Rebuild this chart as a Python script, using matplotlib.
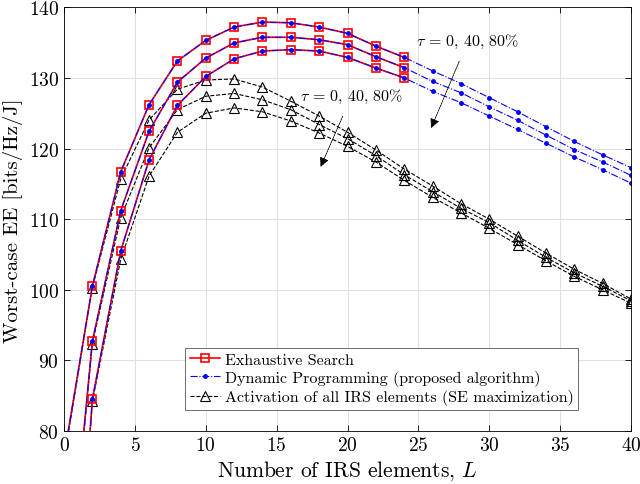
import matplotlib
matplotlib.use("Agg")
import matplotlib.pyplot as plt

plt.rcParams['font.family'] = 'serif'
plt.rcParams['font.serif'] = ['cmr10', 'DejaVu Serif']
plt.rcParams['mathtext.fontset'] = 'cm'
plt.rcParams['axes.unicode_minus'] = False
plt.rcParams['axes.formatter.use_mathtext'] = True

# number of IRS elements
L_es = list(range(0, 25, 2))
L_all = list(range(0, 41, 2))

# exhaustive search, tau = 0, 40, 80 %
es_0 = [76.4, 100.5, 116.7, 126.2, 132.4, 135.3, 137.2, 137.9, 137.8, 137.2, 136.3, 134.5, 132.9]
es_40 = [50.4, 92.7, 111.2, 122.45, 129.4, 132.8, 134.95, 135.75, 135.75, 135.4, 134.7, 133.0, 131.45]
es_80 = [28.0, 84.5, 105.5, 118.4, 126.1, 130.2, 132.7, 133.8, 134.0, 133.8, 132.9, 131.4, 130.0]

# dynamic programming (proposed)
dp_0 = [76.4, 100.5, 116.7, 126.2, 132.4, 135.3, 137.2, 137.9, 137.8, 137.2, 136.3, 134.5, 132.9,
        131.0, 129.2, 127.2, 125.2, 123.1, 121.0, 119.1, 117.3]
dp_40 = [50.4, 92.7, 111.2, 122.45, 129.4, 132.8, 134.95, 135.75, 135.75, 135.4, 134.7, 133.0, 131.45,
         129.5, 127.9, 125.9, 124.0, 121.9, 119.85, 118.1, 116.2]
dp_80 = [28.0, 84.5, 105.5, 118.4, 126.1, 130.2, 132.7, 133.8, 134.0, 133.8, 132.9, 131.4, 130.0,
         128.1, 126.5, 124.6, 122.7, 120.75, 118.8, 117.0, 115.1]

# activation of all IRS elements (SE maximization)
all_0 = [76.0, 100.3, 115.7, 124.05, 128.4, 129.7, 129.85, 128.7, 126.7, 124.6, 122.3,
         119.8, 117.1, 114.7, 112.2, 110.0, 107.6, 105.2, 102.9, 100.9, 98.7]
all_40 = [50.0, 92.4, 110.2, 120.1, 125.5, 127.4, 127.8, 126.9, 125.5, 123.4, 121.4,
          119.0, 116.3, 113.9, 111.55, 109.5, 107.0, 104.6, 102.4, 100.5, 98.45]
all_80 = [28.0, 84.2, 104.3, 116.1, 122.3, 125.0, 125.75, 125.2, 123.9, 122.2, 120.3,
          118.1, 115.5, 113.1, 110.9, 108.7, 106.4, 104.1, 101.9, 100.0, 98.1]

fig = plt.figure(figsize=(6.4, 4.85), dpi=100)
ax = fig.add_axes([0.1, 0.109, 0.886, 0.874])

es_kw = dict(color='red', linestyle='-', linewidth=1.2, marker='s', markersize=6,
             markerfacecolor='none', markeredgewidth=1.2)
dp_kw = dict(color='blue', linestyle='-.', linewidth=0.8, marker='.', markersize=5)
all_kw = dict(color='black', linestyle='--', linewidth=0.8, marker='^', markersize=6.5,
              markerfacecolor='none', markeredgewidth=0.8)

for i, (es, dp, al) in enumerate(zip([es_0, es_40, es_80], [dp_0, dp_40, dp_80],
                                     [all_0, all_40, all_80])):
    ax.plot(L_all, al, label='Activation of all IRS elements (SE maximization)' if i == 0 else None, **all_kw)
    ax.plot(L_es, es, label='Exhaustive Search' if i == 0 else None, **es_kw)
    ax.plot(L_all, dp, label='Dynamic Programming (proposed algorithm)' if i == 0 else None, **dp_kw)

ax.set_xlim(0, 40)
ax.set_ylim(80, 140)
ax.set_xticks(range(0, 41, 5))
ax.set_yticks(range(80, 141, 10))
ax.grid(True, color='#e0e0e0', linewidth=0.8)
ax.set_axisbelow(True)
ax.tick_params(direction='in', top=True, right=True, labelsize=14, length=4, width=0.6)
for s in ax.spines.values():
    s.set_linewidth(0.6)

ax.set_xlabel(r'Number of IRS elements, $L$', fontsize=15.5, labelpad=3)
ax.set_ylabel('Worst-case EE [bits/Hz/J]', fontsize=15, labelpad=4)

tau_txt = r'$\tau\,=\,0,\,40,\,80\%$'
ax.annotate(tau_txt, xy=(25.9, 122.9), xytext=(28.5, 135.3),
            ha='center', va='center', fontsize=11.5,
            arrowprops=dict(arrowstyle='-|>', color='black', lw=0.6, mutation_scale=14,
                            linestyle=(0, (2, 1)), shrinkA=7, shrinkB=0))
ax.annotate(tau_txt, xy=(18.1, 117.4), xytext=(20.3, 127.5),
            ha='center', va='center', fontsize=11.5,
            arrowprops=dict(arrowstyle='-|>', color='black', lw=0.6, mutation_scale=14,
                            linestyle=(0, (2, 1)), shrinkA=7, shrinkB=0))

handles, labels = ax.get_legend_handles_labels()
order = [1, 2, 0]
leg = ax.legend([handles[k] for k in order], [labels[k] for k in order],
                loc='lower center', bbox_to_anchor=(0.56, 0.05), borderaxespad=0,
                fontsize=11.5, labelspacing=0.2, handlelength=1.9, handletextpad=0.3,
                borderpad=0.3, fancybox=False, edgecolor='#555555', framealpha=1)
leg.get_frame().set_linewidth(0.6)

fig.savefig('out.png', dpi=100)
